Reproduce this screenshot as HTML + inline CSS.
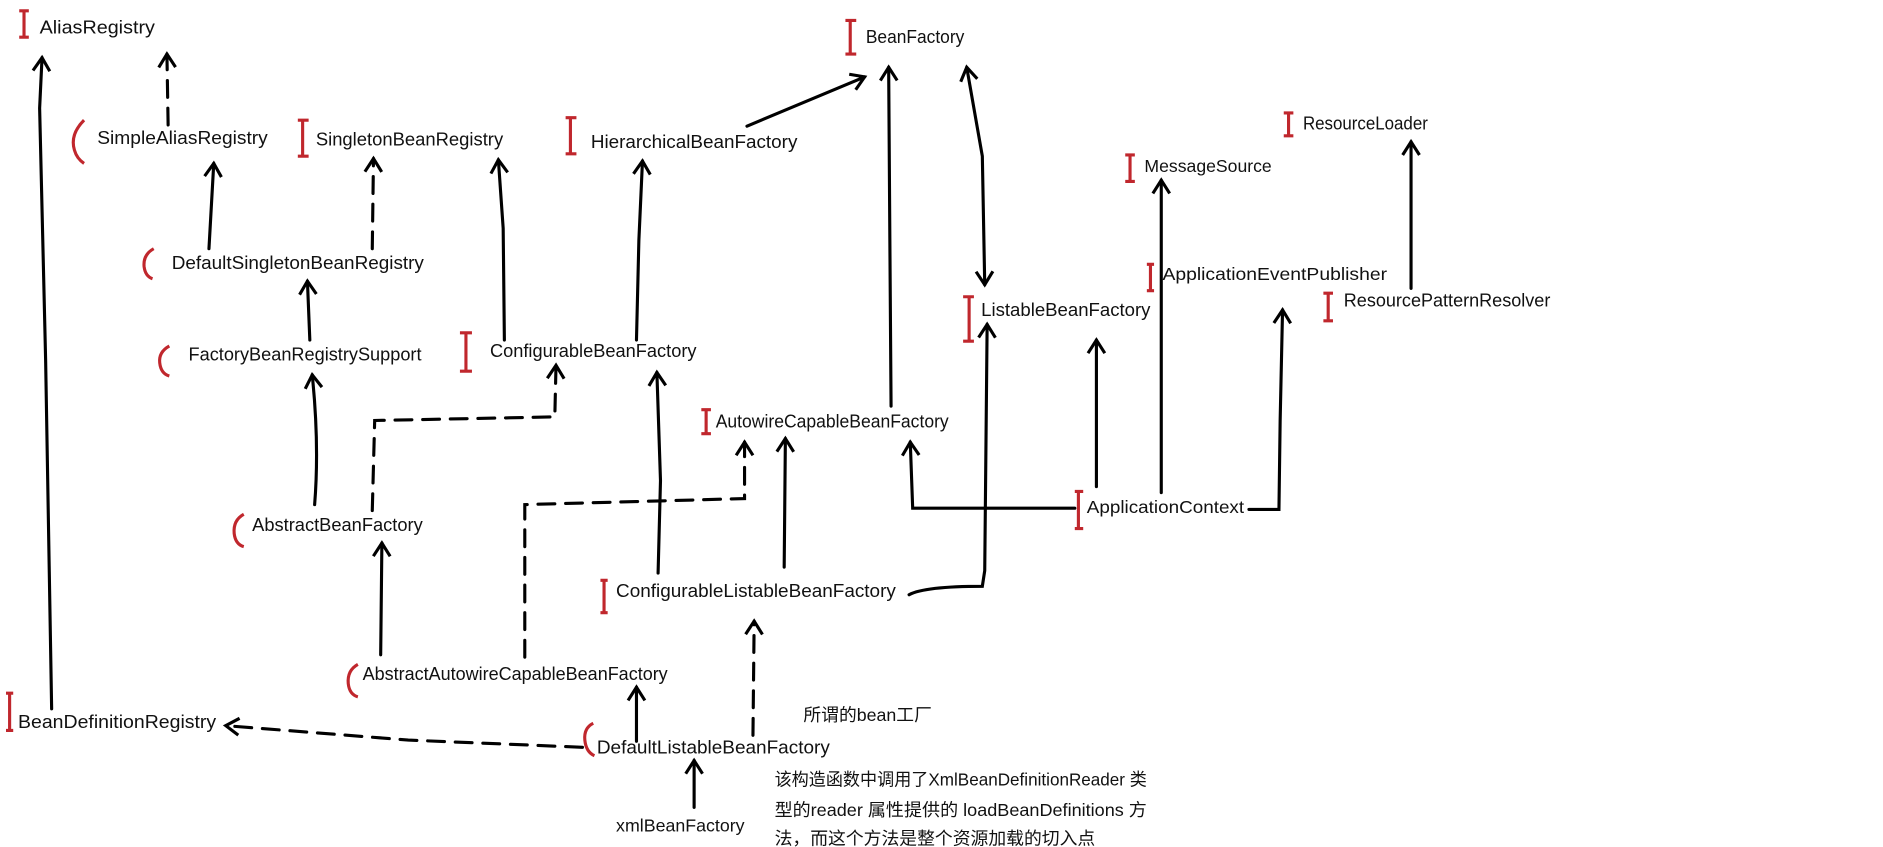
<!DOCTYPE html>
<html><head><meta charset="utf-8"><style>
html,body{margin:0;padding:0;background:#fff;}
svg{display:block;}
.t{font-family:"Liberation Sans Narrow","Liberation Sans",sans-serif;font-size:15px;fill:#111;}
.s{font-family:"Liberation Sans","Noto Sans CJK SC",sans-serif;font-size:14.5px;fill:#111;}
.l{stroke:#000;stroke-width:2.6;fill:none;stroke-linecap:round;}
.d{stroke-dasharray:14 9;}
.r{stroke:#c0272d;stroke-width:2.6;fill:none;}
</style></head><body>
<svg width="1883" height="847" viewBox="0 0 1568 705" preserveAspectRatio="none" xmlns="http://www.w3.org/2000/svg">
<defs><marker id="a" markerWidth="20" markerHeight="20" refX="15" refY="10" orient="auto-start-reverse" markerUnits="userSpaceOnUse" viewBox="0 0 20 20"><path d="M4,3 L15,10 L4,17" stroke="#000" stroke-width="2.6" fill="none"/></marker></defs>

<g class="r">
<path d="M16,9h8M20,9v22M16,31h8"/>
<path d="M248,100h9M252,100v30M248,130h9"/>
<path d="M471,98h9M475,98v30M471,128h9"/>
<path d="M704,17h9M708,17v28M704,45h9"/>
<path d="M383,277h10M388,277v32M383,309h10"/>
<path d="M584,341h8M588,341v20M584,361h8"/>
<path d="M500,483h6M503,483v27M500,510h6"/>
<path d="M5,577h6M8,577v31M5,608h6"/>
<path d="M802,247h9M807,247v37M802,284h9"/>
<path d="M937,129h8M941,129v22M937,151h8"/>
<path d="M1069,94h8M1073,94v19M1069,113h8"/>
<path d="M955,220h6M958,220v22M955,242h6"/>
<path d="M1102,244h8M1106,244v23M1102,267h8"/>
<path d="M895,409h7M898,409v31M895,440h7"/>
</g>
<g class="r">
<path d="M70,100 Q58,112 62,125 Q64,132 70,136"/>
<path d="M128,207 Q119,212 120,222 Q121,230 127,232"/>
<path d="M141,288 Q132,293 133,302 Q134,311 141,313"/>
<path d="M203,428 Q194,433 195,444 Q196,453 203,455"/>
<path d="M298,553 Q289,558 290,569 Q291,578 298,580"/>
<path d="M494,602 Q486,606 487,616 Q488,626 495,629"/>
</g>

<g class="t">
<text x="33" y="28" textLength="96" lengthAdjust="spacingAndGlyphs">AliasRegistry</text>
<text x="81" y="120" textLength="142" lengthAdjust="spacingAndGlyphs">SimpleAliasRegistry</text>
<text x="263" y="121" textLength="156" lengthAdjust="spacingAndGlyphs">SingletonBeanRegistry</text>
<text x="492" y="123" textLength="172" lengthAdjust="spacingAndGlyphs">HierarchicalBeanFactory</text>
<text x="721" y="36" textLength="82" lengthAdjust="spacingAndGlyphs">BeanFactory</text>
<text x="143" y="224" textLength="210" lengthAdjust="spacingAndGlyphs">DefaultSingletonBeanRegistry</text>
<text x="157" y="300" textLength="194" lengthAdjust="spacingAndGlyphs">FactoryBeanRegistrySupport</text>
<text x="408" y="297" textLength="172" lengthAdjust="spacingAndGlyphs">ConfigurableBeanFactory</text>
<text x="596" y="356" textLength="194" lengthAdjust="spacingAndGlyphs">AutowireCapableBeanFactory</text>
<text x="210" y="442" textLength="142" lengthAdjust="spacingAndGlyphs">AbstractBeanFactory</text>
<text x="513" y="497" textLength="233" lengthAdjust="spacingAndGlyphs">ConfigurableListableBeanFactory</text>
<text x="302" y="566" textLength="254" lengthAdjust="spacingAndGlyphs">AbstractAutowireCapableBeanFactory</text>
<text x="15" y="606" textLength="165" lengthAdjust="spacingAndGlyphs">BeanDefinitionRegistry</text>
<text x="497" y="627" textLength="194" lengthAdjust="spacingAndGlyphs">DefaultListableBeanFactory</text>
<text x="817" y="263" textLength="141" lengthAdjust="spacingAndGlyphs">ListableBeanFactory</text>
<text x="1085" y="108" textLength="104" lengthAdjust="spacingAndGlyphs">ResourceLoader</text>
<text x="1119" y="255" textLength="172" lengthAdjust="spacingAndGlyphs">ResourcePatternResolver</text>
</g>
<g class="s">
<text x="953" y="143" textLength="106" lengthAdjust="spacingAndGlyphs">MessageSource</text>
<text x="968" y="233" textLength="187" lengthAdjust="spacingAndGlyphs">ApplicationEventPublisher</text>
<text x="905" y="427" textLength="131" lengthAdjust="spacingAndGlyphs">ApplicationContext</text>
<text x="513" y="692" textLength="107" lengthAdjust="spacingAndGlyphs">xmlBeanFactory</text>
<text x="669" y="600" textLength="107" lengthAdjust="spacingAndGlyphs">所谓的bean工厂</text>
<text x="645" y="654" textLength="310" lengthAdjust="spacingAndGlyphs">该构造函数中调用了XmlBeanDefinitionReader 类</text>
<text x="645" y="679" textLength="310" lengthAdjust="spacingAndGlyphs">型的reader  属性提供的 loadBeanDefinitions 方</text>
<text x="645" y="703" textLength="267" lengthAdjust="spacingAndGlyphs">法，而这个方法是整个资源加载的切入点</text>
</g>

<g class="l">
<path d="M43,590 L38,300 L33,90 L35,48" marker-end="url(#a)"/>
<path class="d" d="M140,104 L139,45" marker-end="url(#a)"/>
<path d="M174,207 L178,136" marker-end="url(#a)"/>
<path class="d" d="M310,207 L311,132" marker-end="url(#a)"/>
<path d="M258,283 L256,234" marker-end="url(#a)"/>
<path d="M262,420 Q266,370 260,312" marker-end="url(#a)"/>
<path d="M420,283 L419,190 L415,133" marker-end="url(#a)"/>
<path d="M530,283 L532,200 L535,134" marker-end="url(#a)"/>
<path d="M622,105 L720,64" marker-end="url(#a)"/>
<path d="M742,338 L741,200 L740,56" marker-end="url(#a)"/>
<path d="M820,237 L818,130 L805,56" marker-start="url(#a)" marker-end="url(#a)"/>
<path class="d" d="M310,425 L312,350 L462,347 L463,304" marker-end="url(#a)"/>
<path d="M317,545 L318,452" marker-end="url(#a)"/>
<path class="d" d="M437,547 L437,420 L620,415 L620,368" marker-end="url(#a)"/>
<path d="M548,477 L550,400 L547,310" marker-end="url(#a)"/>
<path d="M653,472 L654,365" marker-end="url(#a)"/>
<path d="M757,495 Q770,488 818,488 L820,475 L822,270" marker-end="url(#a)"/>
<path d="M530,617 L530,572" marker-end="url(#a)"/>
<path class="d" d="M627,612 L628,517" marker-end="url(#a)"/>
<path class="d" d="M485,622 L340,616 L188,604" marker-end="url(#a)"/>
<path d="M578,672 L578,633" marker-end="url(#a)"/>
<path d="M895,423 L760,423 L758,368" marker-end="url(#a)"/>
<path d="M913,405 L913,283" marker-end="url(#a)"/>
<path d="M967,410 L967,150" marker-end="url(#a)"/>
<path d="M1040,424 L1065,424 L1066,350 L1068,258" marker-end="url(#a)"/>
<path d="M1175,240 L1175,118" marker-end="url(#a)"/>
</g>
</svg>
</body></html>
